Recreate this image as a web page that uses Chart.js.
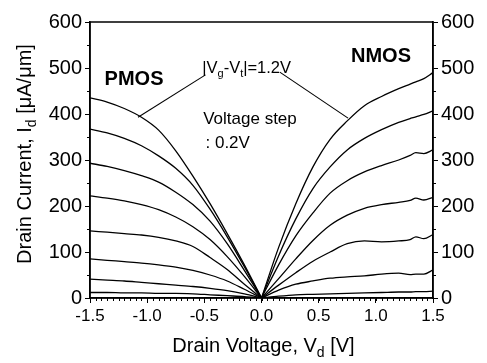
<!DOCTYPE html>
<html>
<head>
<meta charset="utf-8">
<script src="https://cdn.jsdelivr.net/npm/chart.js@4.4.1/dist/chart.umd.min.js"></script>
<style>
html, body { margin: 0; padding: 0; background: #fff; }
#wrap { width: 487px; height: 363px; }
</style>
</head>
<body>
<div id="wrap"><canvas id="ivChart" width="487" height="363"></canvas></div>
<script>
// drain voltage samples (V)
const vdPmos = [-1.5, -1.35, -1.2, -1.05, -0.9, -0.75, -0.6, -0.45, -0.3, -0.15, 0];
const vdNmos = [0, 0.15, 0.3, 0.45, 0.6, 0.75, 0.9, 1.05, 1.2, 1.3, 1.35, 1.42, 1.5];

// PMOS curves, top to bottom (uA/um)
const pmos1 = [435, 426, 412, 393, 365, 320, 265, 205, 140, 72, 0];
const pmos2 = [367, 359, 347, 331, 309, 282, 245, 193, 133, 68, 0];
const pmos3 = [293, 286, 277, 266, 252, 230, 203, 167, 118, 60, 0];
const pmos4 = [222, 217, 211, 203, 192, 176, 155, 127, 90, 47, 0];
const pmos5 = [146, 143, 140, 137, 132, 124, 112, 88, 62, 30, 0];
const pmos6 = [85, 82, 79, 76, 72, 67, 60, 50, 37, 19, 0];
const pmos7 = [41, 39, 37, 34, 31, 28, 25, 21, 16, 9, 0];
const pmos8 = [12, 12, 11, 11, 10, 10, 9, 7, 5, 3, 0];

// NMOS curves, top to bottom
const nmos1 = [0, 110, 205, 285, 345, 385, 418, 438, 455, 465, 470, 477, 490];
const nmos2 = [0, 92, 172, 238, 285, 322, 347, 366, 382, 390, 394, 399, 407];
const nmos3 = [0, 72, 135, 185, 228, 255, 274, 288, 300, 310, 316, 314, 322];
const nmos4 = [0, 42, 85, 125, 158, 180, 195, 203, 208, 212, 217, 213, 219];
const nmos5 = [0, 28, 55, 80, 100, 118, 124, 122, 124, 127, 133, 129, 138];
const nmos6 = [0, 17, 30, 37, 43, 46, 48, 52, 54, 51, 52, 52, 61];
const nmos7 = [0, 4, 7, 8, 9, 10, 11, 12, 13, 13, 14, 14, 15];

// leader lines from the |Vg-Vt| label to the top curves
const leaderPx = [-0.49, -1.08];
const leaderPy = [485, 393];
const leaderNx = [0.16, 0.757];
const leaderNy = [491, 391];

const yTicks = [0, 100, 200, 300, 400, 500, 600];

const FONT = "'Liberation Sans', Arial, sans-serif";

function pts(xs, ys) {
    return xs.map((x, i) => ({ x: x, y: ys[i] }));
}

function curve(xs, ys) {
    return {
        data: pts(xs, ys),
        showLine: true,
        borderColor: '#000',
        borderWidth: 1.3,
        pointRadius: 0,
        cubicInterpolationMode: 'monotone',
        fill: false
    };
}

const datasets = [];
[pmos1, pmos2, pmos3, pmos4, pmos5, pmos6, pmos7, pmos8].forEach(c => datasets.push(curve(vdPmos, c)));
[nmos1, nmos2, nmos3, nmos4, nmos5, nmos6, nmos7].forEach(c => datasets.push(curve(vdNmos, c)));
datasets.push(Object.assign(curve(leaderPx, leaderPy), { borderWidth: 1.1, cubicInterpolationMode: 'default', tension: 0 }));
datasets.push(Object.assign(curve(leaderNx, leaderNy), { borderWidth: 1.1, cubicInterpolationMode: 'default', tension: 0 }));

// text with subscripts: parts = [[text, isSub], ...]
function drawParts(ctx, parts, x, y, size, bold) {
    const big = (bold ? 'bold ' : '') + size + 'px ' + FONT;
    const small = Math.round(size * 0.68) + 'px ' + FONT;
    let w = 0;
    parts.forEach(p => { ctx.font = p[1] ? small : big; w += ctx.measureText(p[0]).width; });
    let cx = x - w / 2;
    ctx.textAlign = 'left';
    ctx.textBaseline = 'middle';
    parts.forEach(p => {
        ctx.font = p[1] ? small : big;
        ctx.fillText(p[0], cx, p[1] ? y + size * 0.35 : y);
        cx += ctx.measureText(p[0]).width;
    });
}

const extras = {
    id: 'extras',
    afterDraw(chart) {
        const { ctx, chartArea: a, scales } = chart;
        const sx = scales.x, sy = scales.y;
        ctx.save();
        ctx.strokeStyle = '#000';
        ctx.fillStyle = '#000';

        // minor ticks
        ctx.lineWidth = 1;
        ctx.beginPath();
        for (let i = 0; i <= 60; i++) {
            const v = -1.5 + i * 0.05;
            const px = Math.round(sx.getPixelForValue(v)) + 0.5;
            ctx.moveTo(px, a.bottom);
            ctx.lineTo(px, a.bottom + 3);
        }
        for (let v = 50; v < 600; v += 100) {
            const py = Math.round(sy.getPixelForValue(v)) + 0.5;
            ctx.moveTo(a.left, py); ctx.lineTo(a.left - 3, py);
            ctx.moveTo(a.right, py); ctx.lineTo(a.right + 3, py);
        }
        ctx.stroke();

        // frame
        ctx.lineWidth = 1.5;
        ctx.strokeRect(a.left, a.top, a.width, a.height);

        // labels inside the plot
        drawParts(ctx, [['PMOS', false]], sx.getPixelForValue(-1.115), sy.getPixelForValue(474), 20, true);
        drawParts(ctx, [['NMOS', false]], sx.getPixelForValue(1.045), sy.getPixelForValue(524), 20, true);
        drawParts(ctx, [['|V', false], ['g', true], ['-V', false], ['t', true], ['|=1.2V', false]],
            sx.getPixelForValue(-0.13), sy.getPixelForValue(500), 16.5, false);
        ctx.font = '17px ' + FONT;
        ctx.textAlign = 'left';
        ctx.textBaseline = 'middle';
        ctx.fillText('Voltage step', sx.getPixelForValue(-0.51), sy.getPixelForValue(388));
        ctx.fillText(': 0.2V', sx.getPixelForValue(-0.49), sy.getPixelForValue(336));

        // axis titles
        drawParts(ctx, [['Drain Voltage, V', false], ['d', true], [' [V]', false]],
            (a.left + a.right) / 2 + 2, 346, 20, false);
        ctx.translate(25, (a.top + a.bottom) / 2 - 6);
        ctx.rotate(-Math.PI / 2);
        drawParts(ctx, [['Drain Current, I', false], ['d', true], [' [\u03bcA/\u03bcm]', false]], 0, 0, 20, false);
        ctx.restore();
    }
};

function yAxis(pos, width) {
    return {
        type: 'linear',
        position: pos,
        min: 0,
        max: 600,
        afterFit: s => { s.width = width; },
        afterBuildTicks: s => { s.ticks = yTicks.map(v => ({ value: v })); },
        border: { display: true, color: '#000', width: 1.5 },
        grid: { drawOnChartArea: false, drawTicks: true, tickLength: 5, tickColor: '#000', tickWidth: 1 },
        ticks: { color: '#000', font: { family: FONT, size: 20 }, padding: 3 }
    };
}

const ctx = document.getElementById('ivChart').getContext('2d');
const ivChart = new Chart(ctx, {
    type: 'scatter',
    data: { datasets: datasets },
    options: {
        responsive: false,
        animation: false,
        layout: { padding: { top: 22, left: 0, right: 0, bottom: 0 } },
        plugins: { legend: { display: false }, tooltip: { enabled: false } },
        scales: {
            x: {
                type: 'linear',
                min: -1.5,
                max: 1.5,
                afterFit: s => { s.height = 65; },
                border: { display: true, color: '#000', width: 1.5 },
                grid: { drawOnChartArea: false, drawTicks: true, tickLength: 5, tickColor: '#000', tickWidth: 1 },
                ticks: {
                    stepSize: 0.5,
                    autoSkip: false,
                    maxRotation: 0,
                    color: '#000',
                    padding: 3,
                    font: { family: FONT, size: 17 },
                    callback: v => Number(v).toFixed(1)
                }
            },
            y: yAxis('left', 90),
            y2: yAxis('right', 54)
        }
    },
    plugins: [extras]
});
</script>
</body>
</html>
